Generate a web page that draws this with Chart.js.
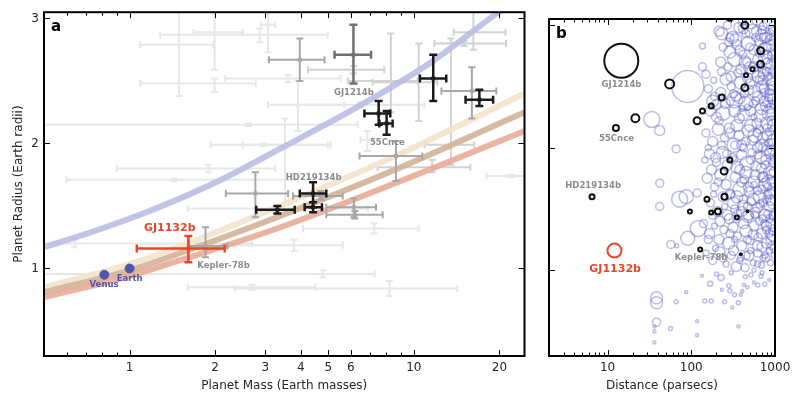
<!DOCTYPE html>
<html>
<head>
<meta charset="utf-8">
<script src="https://cdn.jsdelivr.net/npm/chart.js@4.4.1/dist/chart.umd.min.js"></script>
<style>
  body { margin: 0; background: #fff; }
  #chartA { position: absolute; left: 0; top: 0; }
  #chartB { position: absolute; left: 530px; top: 0; }
</style>
</head>
<body>
<canvas id="chartA" width="530" height="399"></canvas>
<canvas id="chartB" width="270" height="399"></canvas>
<script>
// ---- axes ----
const massTicks = [0.6, 0.7, 0.8, 0.9, 1, 2, 3, 4, 5, 6, 7, 8, 9, 10, 20]
const massLabels = [1, 2, 3, 4, 5, 6, 10, 20]
const radiusTicks = [1, 2, 3]
const distTicks = [3, 4, 5, 6, 7, 8, 9, 10, 20, 30, 40, 50, 60, 70, 80, 90, 100, 200, 300, 400, 500, 600, 700, 800, 900, 1000]
const distLabels = [10, 100, 1000]

// ---- panel a: mass-radius curves (mass, radius) ----
const waterMass = [0.5, 0.8, 1.3, 2.1, 3.4, 6.2, 11.5, 19.3, 24.5]
const waterRad = [1.17, 1.32, 1.50, 1.71, 1.96, 2.28, 2.65, 3.03, 3.2]
const rockMass = [0.5, 1, 1.6, 3.3, 9, 24.5]
const silicateRad = [0.85, 1.035, 1.20, 1.49, 1.92, 2.40]
const earthlikeRad = [0.81, 0.985, 1.145, 1.41, 1.81, 2.25]
const ironRichRad = [0.77, 0.94, 1.085, 1.32, 1.70, 2.10]

// ---- panel a: planets with error bars [mass, massLo, massHi, radius, radLo, radHi] ----
const faintBars = [
  [1.49, 1.09, 1.97, 2.79, 2.38, 3.1],
  [1.99, 1.68, 2.50, 2.89, 2.59, 3.1],
  [1.99, 1.09, 2.78, 2.48, 2.41, 2.52],
  [2.87, 1.28, 4.98, 2.87, 2.81, 2.92],
  [3.07, 2.9, 3.25, 2.95, 2.73, 3.2],
  [3.61, 2.17, 5.53, 2.52, 2.49, 2.55],
  [3.91, 3.07, 5.70, 2.31, 2.1, 2.5],
  [1.89, 0.90, 3.26, 1.80, 1.77, 1.83],
  [1.43, 0.60, 3.91, 1.71, 1.70, 1.72],
  [2.95, 1.93, 4.98, 1.99, 1.98, 2.0],
  [2.62, 0.5, 6.35, 2.15, 2.14, 2.16],
  [0.64, 0.45, 2.7, 1.20, 1.17, 1.23],
  [3.33, 1.6, 6.88, 1.48, 1.47, 1.49],
  [4.79, 0.5, 7.28, 0.955, 0.93, 0.985],
  [8.2, 2.34, 14.2, 0.84, 0.78, 0.90],
  [2.69, 1.6, 4.5, 0.85, 0.83, 0.87],
  [3.79, 2.2, 5.62, 1.185, 1.14, 1.23],
  [7.26, 4.07, 10.4, 1.32, 1.28, 1.36],
  [22, 18, 30, 1.74, 1.73, 1.75],
  [3.52, 2.5, 5.1, 1.99, 1.52, 2.2],
  [6.5, 3.9, 10.9, 2.31, 2.29, 2.33],
  [6.87, 6.5, 7.2, 2.03, 1.94, 2.1],
]
const lightBars = [
  [16.2, 13.8, 21.0, 2.89, 2.75, 3.2],
  [15.0, 11.8, 21.1, 2.80, 2.78, 2.82],
  [11.6, 7.46, 15.8, 1.81, 1.77, 1.87],
  [13.5, 10.9, 16.3, 1.99, 1.83, 2.84],
  [6.13, 4.24, 7.87, 2.59, 2.56, 2.62],
  [10.4, 7.16, 12.1, 2.49, 2.18, 2.80],
  [8.3, 5.86, 10.3, 2.5, 2.25, 2.88],
]
const grayBars = [
  [3.97, 3.09, 4.85, 2.67, 2.50, 2.84],
  [16.0, 12.5, 19.5, 2.42, 2.20, 2.61],
  [8.65, 6.44, 10.7, 1.90, 1.70, 2.02],
  [6.15, 4.92, 7.36, 1.49, 1.41, 1.56],
  [6.2, 4.92, 7.77, 1.43, 1.40, 1.46],
  [1.85, 1.62, 2.21, 1.18, 1.09, 1.33],
  [2.77, 2.18, 3.61, 1.60, 1.41, 1.77],
  [4.71, 3.76, 5.62, 1.58, 1.55, 1.62],
]
const gj1214Bar = [[6.13, 5.26, 7.07, 2.71, 2.48, 2.95]]
const blackBars = [
  [11.7, 10.5, 13.0, 2.52, 2.34, 2.71],
  [17.0, 15.2, 19.0, 2.35, 2.30, 2.43],
  [7.52, 6.70, 8.26, 2.24, 2.15, 2.34],
  [8.02, 7.56, 8.42, 2.16, 2.07, 2.26],
  [4.42, 3.97, 4.92, 1.60, 1.49, 1.69],
  [4.42, 4.13, 4.75, 1.49, 1.45, 1.53],
  [3.31, 2.79, 3.81, 1.47, 1.44, 1.50],
]
const gj1132Bar = [[1.61, 1.06, 2.16, 1.16, 1.05, 1.26]]
const solarPlanets = [[0.815, 0.95], [1, 1]]

// ---- panel b: [distance pc, radius, circle size] ----
const knownPlanets = [
  [14.6, 2.71, 17], [55.2, 2.52, 4.5], [21.5, 2.24, 4], [12.6, 2.16, 3],
  [117.5, 2.22, 3.5], [136, 2.30, 2.5], [173, 2.34, 2.5], [231, 2.41, 3],
  [436, 2.49, 3.5], [451, 2.59, 2], [538, 2.64, 2], [673, 2.68, 3.5],
  [673, 2.79, 3.5], [436, 3.0, 3.5], [289, 3.06, 3], [289, 1.90, 2.5],
  [247, 1.81, 3.5], [154, 1.58, 2.5], [249, 1.60, 3], [96.4, 1.48, 2],
  [173, 1.47, 2], [208, 1.48, 3], [351, 1.43, 2], [128, 1.17, 2], [6.53, 1.60, 2.5],
]
const knownDots = [[470, 1.48, 1.5], [390, 1.13, 1.5]]
const gj1132Circle = [[12.1, 1.16, 7]]

const fieldTop = [
  [215, 2.95, 5], [270, 3.0, 4], [310, 2.9, 6], [370, 2.98, 5], [450, 2.93, 4], [520, 3.02, 6],
  [600, 2.95, 5], [720, 2.99, 4], [880, 2.92, 5], [240, 2.82, 4], [290, 2.78, 6], [350, 2.84, 5],
  [410, 2.76, 4], [480, 2.85, 7], [560, 2.8, 5], [640, 2.86, 4], [760, 2.81, 6], [920, 2.78, 4],
  [225, 2.7, 5], [275, 2.66, 4], [330, 2.72, 7], [390, 2.64, 5], [460, 2.7, 4], [540, 2.62, 6],
  [620, 2.72, 5], [700, 2.64, 4], [810, 2.69, 5], [940, 2.62, 4],
  [136, 2.83, 3], [136, 2.66, 4], [231, 2.93, 6], [289, 2.9, 4], [407, 3.03, 4],
]
const fieldUpper = [
  [160, 2.48, 4], [185, 2.55, 3], [225, 2.45, 5], [260, 2.56, 6], [300, 2.5, 4], [340, 2.42, 5],
  [385, 2.53, 6], [430, 2.44, 4], [500, 2.52, 5], [570, 2.46, 6], [650, 2.55, 4], [740, 2.48, 5],
  [840, 2.41, 4], [950, 2.5, 5], [200, 2.35, 5], [240, 2.28, 7], [290, 2.38, 4], [330, 2.3, 6],
  [375, 2.24, 5], [445, 2.36, 7], [510, 2.3, 5], [590, 2.38, 4], [670, 2.26, 6], [770, 2.34, 5],
  [900, 2.28, 4], [215, 2.22, 4], [400, 2.32, 3], [610, 2.2, 5],
  [91, 2.5, 16], [33.8, 2.23, 8], [42, 2.14, 5], [180, 2.38, 6], [329, 2.39, 8],
]
const fieldMid = [
  [150, 2.12, 4], [180, 2.05, 5], [210, 2.15, 6], [250, 2.08, 4], [285, 2.16, 5], [325, 2.02, 7],
  [370, 2.1, 5], [420, 2.0, 4], [480, 2.14, 6], [540, 2.06, 5], [610, 2.12, 4], [690, 2.02, 6],
  [800, 2.1, 5], [940, 2.04, 4], [165, 1.95, 5], [200, 1.88, 4], [235, 1.96, 6], [270, 1.86, 5],
  [310, 1.92, 4], [350, 1.84, 6], [400, 1.94, 5], [460, 1.87, 7], [530, 1.96, 4], [590, 1.85, 5],
  [680, 1.92, 6], [760, 1.86, 4], [860, 1.95, 5], [950, 1.88, 4],
  [66, 1.99, 4], [42, 1.71, 4], [42, 1.52, 4],
]
const fieldLow = [
  [155, 1.75, 5], [190, 1.68, 4], [225, 1.78, 6], [260, 1.7, 5], [295, 1.62, 4], [335, 1.76, 5],
  [380, 1.66, 7], [430, 1.74, 4], [490, 1.64, 5], [560, 1.72, 6], [620, 1.65, 4], [710, 1.76, 5],
  [820, 1.68, 4], [940, 1.72, 5], [170, 1.55, 4], [205, 1.48, 5], [250, 1.52, 3], [285, 1.42, 5],
  [320, 1.55, 6], [360, 1.46, 4], [410, 1.53, 5], [470, 1.44, 6], [520, 1.56, 4], [580, 1.47, 5],
  [660, 1.54, 4], [750, 1.45, 6], [850, 1.52, 5], [950, 1.44, 4],
  [72.6, 1.58, 8], [87, 1.6, 7], [117.5, 1.63, 4], [196, 1.92, 5],
]
const fieldBase = [
  [121, 1.34, 8], [91, 1.26, 7], [57, 1.21, 4], [67, 1.2, 2],
  [140, 1.38, 4], [165, 1.3, 5], [190, 1.36, 3], [215, 1.25, 5], [245, 1.33, 4], [280, 1.22, 6],
  [315, 1.35, 5], [355, 1.28, 4], [400, 1.2, 5], [450, 1.32, 6], [500, 1.24, 4], [560, 1.36, 5],
  [630, 1.27, 4], [700, 1.19, 5], [790, 1.33, 4], [900, 1.25, 5], [150, 1.14, 3], [180, 1.08, 4],
  [220, 1.15, 5], [260, 1.05, 3], [300, 1.12, 4], [345, 1.03, 5], [390, 1.1, 3], [440, 1.02, 4],
  [490, 1.12, 5], [550, 1.06, 3], [620, 1.14, 4], [690, 1.04, 3], [780, 1.1, 4], [880, 1.06, 3],
]
const fieldSmall = [
  [38.5, 0.775, 6], [38.5, 0.735, 6], [38.5, 0.576, 4], [36.3, 0.54, 1.5], [36.3, 0.5, 1.5],
  [36.3, 0.41, 1.5], [66, 0.743, 2], [56.6, 0.524, 2], [87, 0.82, 1.5], [117.5, 0.584, 1.5],
  [117.5, 0.47, 1.5], [134, 0.955, 1.5], [145, 0.748, 2], [173, 0.748, 2], [168, 0.889, 2.5],
  [227, 0.941, 3], [232, 0.84, 1.5], [250, 0.743, 2], [282, 0.873, 2], [289, 0.833, 2],
  [309, 0.695, 1.5], [329, 0.80, 2], [364, 0.735, 2], [366, 0.54, 1.5], [390, 0.80, 1.5],
  [407, 0.83, 1.5], [443, 0.947, 2], [517, 0.96, 2], [625, 0.88, 2], [754, 0.886, 2],
  [425, 0.88, 1.5], [200, 0.97, 2], [300, 0.98, 2], [560, 0.9, 1.5], [680, 0.95, 2],
  [850, 0.92, 1.5], [470, 0.86, 1.5],
]
// densest part of the field, 300-1000 pc
const denseTop = [
  [300, 2.58, 5], [340, 2.88, 6], [360, 2.61, 4], [420, 2.97, 5], [440, 2.7, 6], [470, 2.57, 5],
  [500, 2.82, 4], [530, 2.95, 7], [560, 2.66, 5], [590, 2.9, 4], [630, 2.58, 6], [660, 2.78, 5],
  [690, 2.92, 6], [730, 2.6, 5], [770, 2.74, 7], [800, 2.9, 5], [830, 2.58, 4], [860, 2.83, 6],
  [900, 2.68, 5], [930, 2.96, 4], [960, 2.75, 6], [980, 2.87, 5], [610, 3.04, 5], [380, 2.79, 5],
  [850, 3.02, 6], [720, 2.82, 4], [500, 2.65, 6], [280, 2.86, 4], [650, 2.68, 3], [900, 2.56, 6],
]
const denseUpper = [
  [290, 2.12, 5], [320, 2.44, 4], [350, 2.18, 6], [380, 2.4, 5], [420, 2.27, 6], [450, 2.05, 4],
  [480, 2.47, 5], [510, 2.18, 6], [550, 2.36, 4], [580, 2.1, 7], [620, 2.42, 5], [650, 2.15, 4],
  [690, 2.32, 6], [720, 2.08, 5], [750, 2.45, 4], [790, 2.2, 6], [820, 2.37, 5], [860, 2.13, 4],
  [890, 2.43, 6], [920, 2.22, 5], [960, 2.06, 6], [980, 2.35, 4], [560, 2.25, 3], [700, 2.5, 6],
  [400, 2.02, 5], [850, 2.28, 7], [470, 2.33, 3], [620, 2.0, 5], [940, 2.4, 5], [330, 2.02, 4],
]
const denseMid = [
  [290, 1.62, 5], [320, 1.9, 4], [350, 1.6, 6], [380, 1.82, 5], [420, 1.58, 4], [450, 1.8, 6],
  [480, 1.68, 5], [510, 1.9, 4], [550, 1.58, 6], [580, 1.78, 5], [620, 1.94, 4], [650, 1.6, 6],
  [690, 1.83, 5], [720, 1.55, 4], [750, 1.7, 6], [790, 1.98, 5], [820, 1.62, 4], [860, 1.8, 6],
  [890, 1.57, 5], [920, 1.9, 4], [960, 1.66, 6], [980, 1.8, 5], [560, 1.7, 3], [700, 1.66, 4],
  [400, 1.72, 5], [850, 1.72, 7], [470, 1.52, 4], [620, 1.51, 5], [940, 1.98, 5], [330, 1.5, 4],
]
const denseLow = [
  [290, 1.3, 4], [320, 1.16, 5], [350, 1.42, 4], [380, 1.08, 3], [420, 1.38, 5], [450, 1.12, 4],
  [480, 1.45, 5], [510, 1.16, 3], [550, 1.29, 5], [580, 1.45, 4], [620, 1.2, 5], [650, 1.4, 4],
  [690, 1.3, 5], [720, 1.1, 3], [750, 1.38, 4], [790, 1.22, 5], [820, 1.46, 4], [860, 1.16, 3],
  [890, 1.38, 5], [920, 1.2, 4], [960, 1.33, 5], [980, 1.12, 3], [560, 1.0, 2], [700, 0.98, 2],
  [400, 1.48, 5], [850, 1.3, 4], [470, 1.25, 4], [620, 1.05, 3], [940, 1.45, 4], [330, 1.25, 3],
]
// right-hand edge (700-1000 pc) and inner edge (150-280 pc) of the field
const edgeBand = [
  [700, 2.96, 4], [760, 2.9, 5], [820, 2.76, 4], [880, 2.88, 5], [950, 2.7, 4], [980, 2.98, 6],
  [720, 2.55, 5], [790, 2.62, 4], [870, 2.47, 5], [930, 2.52, 6], [990, 2.6, 4], [740, 2.38, 5],
  [800, 2.16, 4], [880, 2.32, 5], [960, 2.18, 6], [710, 2.0, 4], [780, 1.9, 5], [840, 2.04, 4],
  [910, 1.78, 5], [980, 1.92, 4], [730, 1.76, 5], [800, 1.58, 4], [880, 1.62, 5], [950, 1.55, 6],
  [720, 1.42, 4], [790, 1.36, 5], [860, 1.42, 4], [930, 1.28, 5], [980, 1.18, 4], [760, 1.12, 3],
]
const innerBand = [
  [150, 2.6, 4], [170, 2.3, 5], [190, 2.42, 4], [160, 2.0, 3], [200, 2.25, 5], [230, 2.02, 4],
  [175, 1.82, 5], [210, 1.72, 4], [240, 1.6, 5], [180, 1.45, 4], [220, 1.4, 5], [160, 1.25, 4],
  [195, 1.18, 3], [240, 1.1, 4], [270, 1.45, 5], [265, 1.95, 4], [255, 2.36, 5], [185, 1.62, 3],
  [145, 1.9, 3], [230, 2.62, 4],
]

// ---- text labels ----
const labelsA = [
  ['GJ1214b', 6.15, 2.387, '#8c8c8c', 'bold 8.5px "DejaVu Sans"'],
  ['55Cnce', 8.07, 1.984, '#8c8c8c', 'bold 8.5px "DejaVu Sans"'],
  ['HD219134b', 4.44, 1.711, '#8c8c8c', 'bold 8.5px "DejaVu Sans"'],
  ['Kepler-78b', 2.14, 1.0, '#8c8c8c', 'bold 8.5px "DejaVu Sans"'],
  ['GJ1132b', 1.384, 1.298, '#e8452c', 'bold 11px "DejaVu Sans"'],
  ['Venus', 0.813, 0.849, '#5057b3', 'bold 8.5px "DejaVu Sans"'],
  ['Earth', 1.0, 0.897, '#5057b3', 'bold 8.5px "DejaVu Sans"'],
]
const labelsB = [
  ['GJ1214b', 14.67, 2.494, '#8c8c8c', 'bold 8.5px "DejaVu Sans"'],
  ['55Cnce', 12.8, 2.058, '#8c8c8c', 'bold 8.5px "DejaVu Sans"'],
  ['HD219134b', 6.73, 1.673, '#8c8c8c', 'bold 8.5px "DejaVu Sans"'],
  ['GJ1132b', 12.32, 0.9825, '#e8452c', 'bold 11px "DejaVu Sans"'],
  ['Kepler-78b', 131.2, 1.082, '#8c8c8c', 'bold 8.5px "DejaVu Sans"'],
]

const FONT = '"DejaVu Sans", sans-serif'
const INK = '#262626'

const xy = (xs, ys) => xs.map((v, i) => ({ x: v, y: ys[i] }))
const bubbles = rows => rows.map(([d, r, s]) => ({ x: d, y: r, r: s }))

function clipArea(ctx, a) {
  ctx.beginPath()
  ctx.rect(a.left, a.top, a.right - a.left, a.bottom - a.top)
  ctx.clip()
}

function drawBars(chart, rows, color, width, cap, marker) {
  const { ctx, chartArea, scales: { x, y } } = chart
  ctx.save()
  clipArea(ctx, chartArea)
  ctx.strokeStyle = color
  ctx.fillStyle = color
  ctx.lineWidth = width
  rows.forEach(([m, mLo, mHi, r, rLo, rHi]) => {
    const px = x.getPixelForValue(m), py = y.getPixelForValue(r)
    const x0 = x.getPixelForValue(mLo), x1 = x.getPixelForValue(mHi)
    const y0 = y.getPixelForValue(rLo), y1 = y.getPixelForValue(rHi)
    ctx.beginPath()
    ctx.moveTo(x0, py); ctx.lineTo(x1, py)
    ctx.moveTo(px, y0); ctx.lineTo(px, y1)
    ctx.moveTo(x0, py - cap); ctx.lineTo(x0, py + cap)
    ctx.moveTo(x1, py - cap); ctx.lineTo(x1, py + cap)
    ctx.moveTo(px - cap, y0); ctx.lineTo(px + cap, y0)
    ctx.moveTo(px - cap, y1); ctx.lineTo(px + cap, y1)
    ctx.stroke()
    if (marker) ctx.fillRect(px - marker / 2, py - marker / 2, marker, marker)
  })
  ctx.restore()
}

// inward ticks on all four sides + black frame
function drawFrame(chart, xTicks, xMajor) {
  const { ctx, chartArea: a, scales: { x, y } } = chart
  ctx.save()
  ctx.strokeStyle = '#000'
  ctx.lineWidth = 1
  ctx.beginPath()
  xTicks.forEach(v => {
    const px = Math.round(x.getPixelForValue(v)) + 0.5
    const len = xMajor.includes(v) ? 6 : 3.5
    ctx.moveTo(px, a.bottom); ctx.lineTo(px, a.bottom - len)
    ctx.moveTo(px, a.top); ctx.lineTo(px, a.top + len)
  })
  radiusTicks.forEach(v => {
    const py = Math.round(y.getPixelForValue(v)) + 0.5
    ctx.moveTo(a.left, py); ctx.lineTo(a.left + 6, py)
    ctx.moveTo(a.right, py); ctx.lineTo(a.right - 6, py)
  })
  ctx.stroke()
  ctx.lineWidth = 2
  ctx.strokeRect(a.left, a.top, a.right - a.left, a.bottom - a.top)
  ctx.restore()
}

function drawLabels(chart, labels) {
  const { ctx, scales: { x, y } } = chart
  ctx.save()
  ctx.textAlign = 'center'
  ctx.textBaseline = 'alphabetic'
  labels.forEach(([t, vx, vy, color, font]) => {
    ctx.fillStyle = color
    ctx.font = font
    ctx.fillText(t, x.getPixelForValue(vx), y.getPixelForValue(vy))
  })
  ctx.restore()
}

function drawTitles(chart, letter, xTitle, yTitle) {
  const { ctx, chartArea: a } = chart
  ctx.save()
  ctx.fillStyle = '#000'
  ctx.font = 'bold 15px ' + FONT
  ctx.textAlign = 'left'
  ctx.textBaseline = 'alphabetic'
  ctx.fillText(letter, a.left + 7, a.top + 18.5)
  ctx.fillStyle = INK
  ctx.font = '12px ' + FONT
  ctx.textAlign = 'center'
  ctx.textBaseline = 'middle'
  ctx.fillText(xTitle, (a.left + a.right) / 2, 385.5)
  if (yTitle) {
    ctx.translate(19, (a.top + a.bottom) / 2)
    ctx.rotate(-Math.PI / 2)
    ctx.fillText(yTitle, 0, 0)
  }
  ctx.restore()
}

const tickFont = { family: FONT, size: 12 }

const panelA = {
  id: 'panelA',
  beforeDatasetsDraw(chart) {
    drawBars(chart, faintBars, '#e7e7e7', 2, 3.5, 0)
    drawBars(chart, lightBars, '#d2d2d2', 2, 3.5, 0)
  },
  afterDatasetsDraw(chart) {
    drawBars(chart, grayBars, '#a8a8a8', 2, 3.5, 4)
    drawBars(chart, gj1214Bar, '#707070', 2.5, 4, 4)
    drawBars(chart, blackBars, '#1b1b1b', 2.5, 4, 4)
    drawBars(chart, gj1132Bar, '#e8472a', 2.5, 4, 4)
  },
  afterDraw(chart) {
    drawLabels(chart, labelsA)
    drawFrame(chart, massTicks, massLabels)
    drawTitles(chart, 'a', 'Planet Mass (Earth masses)', 'Planet Radius (Earth radii)')
  },
}

const panelB = {
  id: 'panelB',
  afterDraw(chart) {
    drawLabels(chart, labelsB)
    drawFrame(chart, distTicks, distLabels)
    drawTitles(chart, 'b', 'Distance (parsecs)', null)
  },
}

const curve = (data, color, order) => ({
  type: 'line', data, borderColor: color, borderWidth: 6, pointRadius: 0,
  cubicInterpolationMode: 'monotone', fill: false, order, clip: 0,
})

new Chart(document.getElementById('chartA'), {
  type: 'scatter',
  data: {
    datasets: [
      { data: xy(solarPlanets.map(p => p[0]), solarPlanets.map(p => p[1])),
        backgroundColor: '#4f55b3', borderColor: '#4f55b3', pointRadius: 4.5, order: 0 },
      curve(xy(rockMass, ironRichRad), 'rgba(232,172,152,0.9)', 1),
      curve(xy(rockMass, earthlikeRad), 'rgba(212,182,156,0.95)', 2),
      curve(xy(rockMass, silicateRad), 'rgba(242,230,208,0.95)', 3),
      curve(xy(waterMass, waterRad), 'rgba(186,189,228,0.9)', 4),
    ],
  },
  options: {
    responsive: false,
    devicePixelRatio: 1,
    animation: false,
    events: [],
    layout: { padding: { top: 11, right: 2, left: 0, bottom: 0 } },
    plugins: { legend: { display: false }, tooltip: { enabled: false } },
    scales: {
      x: {
        type: 'logarithmic', min: 0.5, max: 24.5,
        afterBuildTicks: s => { s.ticks = massTicks.map(v => ({ value: v })) },
        afterFit: s => { s.height = 43 },
        grid: { display: false, drawTicks: false },
        border: { display: false },
        ticks: {
          autoSkip: false, maxRotation: 0, padding: 5, color: INK, font: tickFont,
          callback: v => massLabels.includes(v) ? String(v) : '',
        },
      },
      y: {
        min: 0.3, max: 3.05,
        afterBuildTicks: s => { s.ticks = radiusTicks.map(v => ({ value: v })) },
        afterFit: s => { s.width = 44 },
        grid: { display: false, drawTicks: false },
        border: { display: false },
        ticks: { padding: 5, color: INK, font: tickFont },
      },
    },
  },
  plugins: [panelA],
})

const field = rows => ({
  data: bubbles(rows), backgroundColor: 'rgba(0,0,0,0)',
  borderColor: 'rgba(96,96,200,0.42)', borderWidth: 1.5, order: 5, clip: 0,
})

new Chart(document.getElementById('chartB'), {
  type: 'bubble',
  data: {
    datasets: [
      { data: bubbles(gj1132Circle), backgroundColor: 'rgba(0,0,0,0)', borderColor: '#e8472a', borderWidth: 2, order: 0, clip: 0 },
      { data: bubbles(knownDots), backgroundColor: '#111', borderColor: '#111', borderWidth: 1, order: 1, clip: 0 },
      { data: bubbles(knownPlanets), backgroundColor: 'rgba(0,0,0,0)', borderColor: '#111', borderWidth: 2, order: 2, clip: 0 },
      field(fieldTop), field(fieldUpper), field(fieldMid),
      field(fieldLow), field(fieldBase), field(fieldSmall),
      field(denseTop), field(denseUpper), field(denseMid), field(denseLow),
      field(edgeBand), field(innerBand),
    ],
  },
  options: {
    responsive: false,
    devicePixelRatio: 1,
    animation: false,
    events: [],
    layout: { padding: { top: 11, right: 25, left: 3, bottom: 0 } },
    plugins: { legend: { display: false }, tooltip: { enabled: false } },
    scales: {
      x: {
        type: 'logarithmic', min: 2, max: 1000,
        afterBuildTicks: s => { s.ticks = distTicks.map(v => ({ value: v })) },
        afterFit: s => { s.height = 43 },
        grid: { display: false, drawTicks: false },
        border: { display: false },
        ticks: {
          autoSkip: false, maxRotation: 0, padding: 5, color: INK, font: tickFont,
          callback: v => distLabels.includes(v) ? String(v) : '',
        },
      },
      y: { display: false, min: 0.3, max: 3.05 },
    },
  },
  plugins: [panelB],
})
</script>
</body>
</html>
